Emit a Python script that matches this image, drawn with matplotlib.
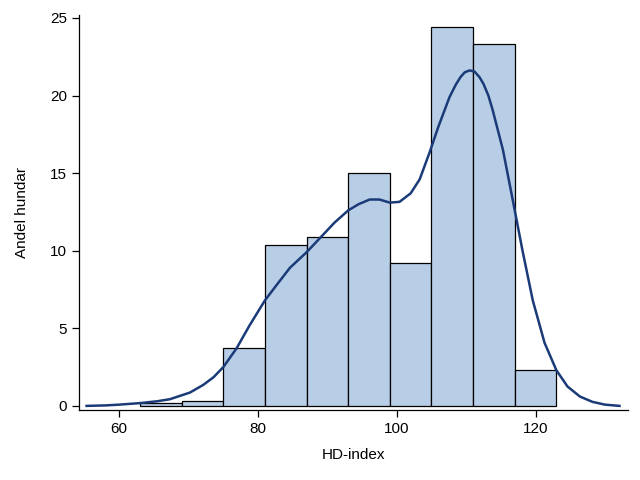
import matplotlib.pyplot as plt

# histogram bins (HD-index) and heights (Andel hundar, %)
bin_edges = [63, 69, 75, 81, 87, 93, 99, 105, 111, 117, 123]
bin_heights = [0.2, 0.3, 3.75, 10.4, 10.9, 15.0, 9.2, 24.45, 23.3, 2.3]

# density curve
kde_x = [55.3, 58, 60, 63, 65.5, 67.3, 70.2, 72.1, 73.6, 75, 76.9, 78.8, 81, 82.7,
         84.6, 87, 88.9, 91, 93, 94.5, 96.1, 97.5, 99, 100.4, 102, 103.3, 104.7,
         106, 107.6, 108.5, 109.2, 109.8, 110.5, 111.2, 111.9, 112.5, 113.2,
         113.8, 115.3, 116.7, 118.1, 119.6, 121.3, 123, 124.6, 126.4, 128.2, 130,
         132.1]
kde_y = [0.0, 0.03, 0.08, 0.18, 0.3, 0.43, 0.86, 1.35, 1.85, 2.5, 3.7, 5.2, 6.8, 7.8,
         8.9, 9.9, 10.8, 11.8, 12.6, 13.0, 13.3, 13.3, 13.1, 13.15, 13.7, 14.6, 16.3,
         18.0, 19.9, 20.7, 21.2, 21.5, 21.62, 21.55, 21.2, 20.75, 20.0,
         19.1, 16.5, 13.3, 10.05, 6.8, 4.06, 2.3, 1.25, 0.6, 0.26, 0.08, 0.0]

plt.rcParams["font.family"] = ["Liberation Sans", "DejaVu Sans"]

fig = plt.figure(figsize=(6.4, 4.8), dpi=100)
ax = fig.add_axes([0.1234, 0.146, 0.8576, 0.823])

widths = [bin_edges[i + 1] - bin_edges[i] for i in range(len(bin_heights))]
ax.bar(bin_edges[:-1], bin_heights, width=widths, align="edge",
       color="#b8cde6", edgecolor="black", linewidth=0.9)
ax.plot(kde_x, kde_y, color="#1a3a78", linewidth=1.8)

ax.set_xlim(54.2, 133.3)
ax.set_ylim(-0.26, 25.2)
ax.set_xticks([60, 80, 100, 120])
ax.set_yticks([0, 5, 10, 15, 20, 25])
ax.tick_params(labelsize=11, length=5, width=0.9, colors="black")
ax.set_xlabel("HD-index", fontsize=11, labelpad=9)
ax.set_ylabel("Andel hundar", fontsize=11, labelpad=15)

for side in ["top", "right"]:
    ax.spines[side].set_visible(False)
for side in ["left", "bottom"]:
    ax.spines[side].set_linewidth(0.9)

fig.savefig("out.png", dpi=100)
